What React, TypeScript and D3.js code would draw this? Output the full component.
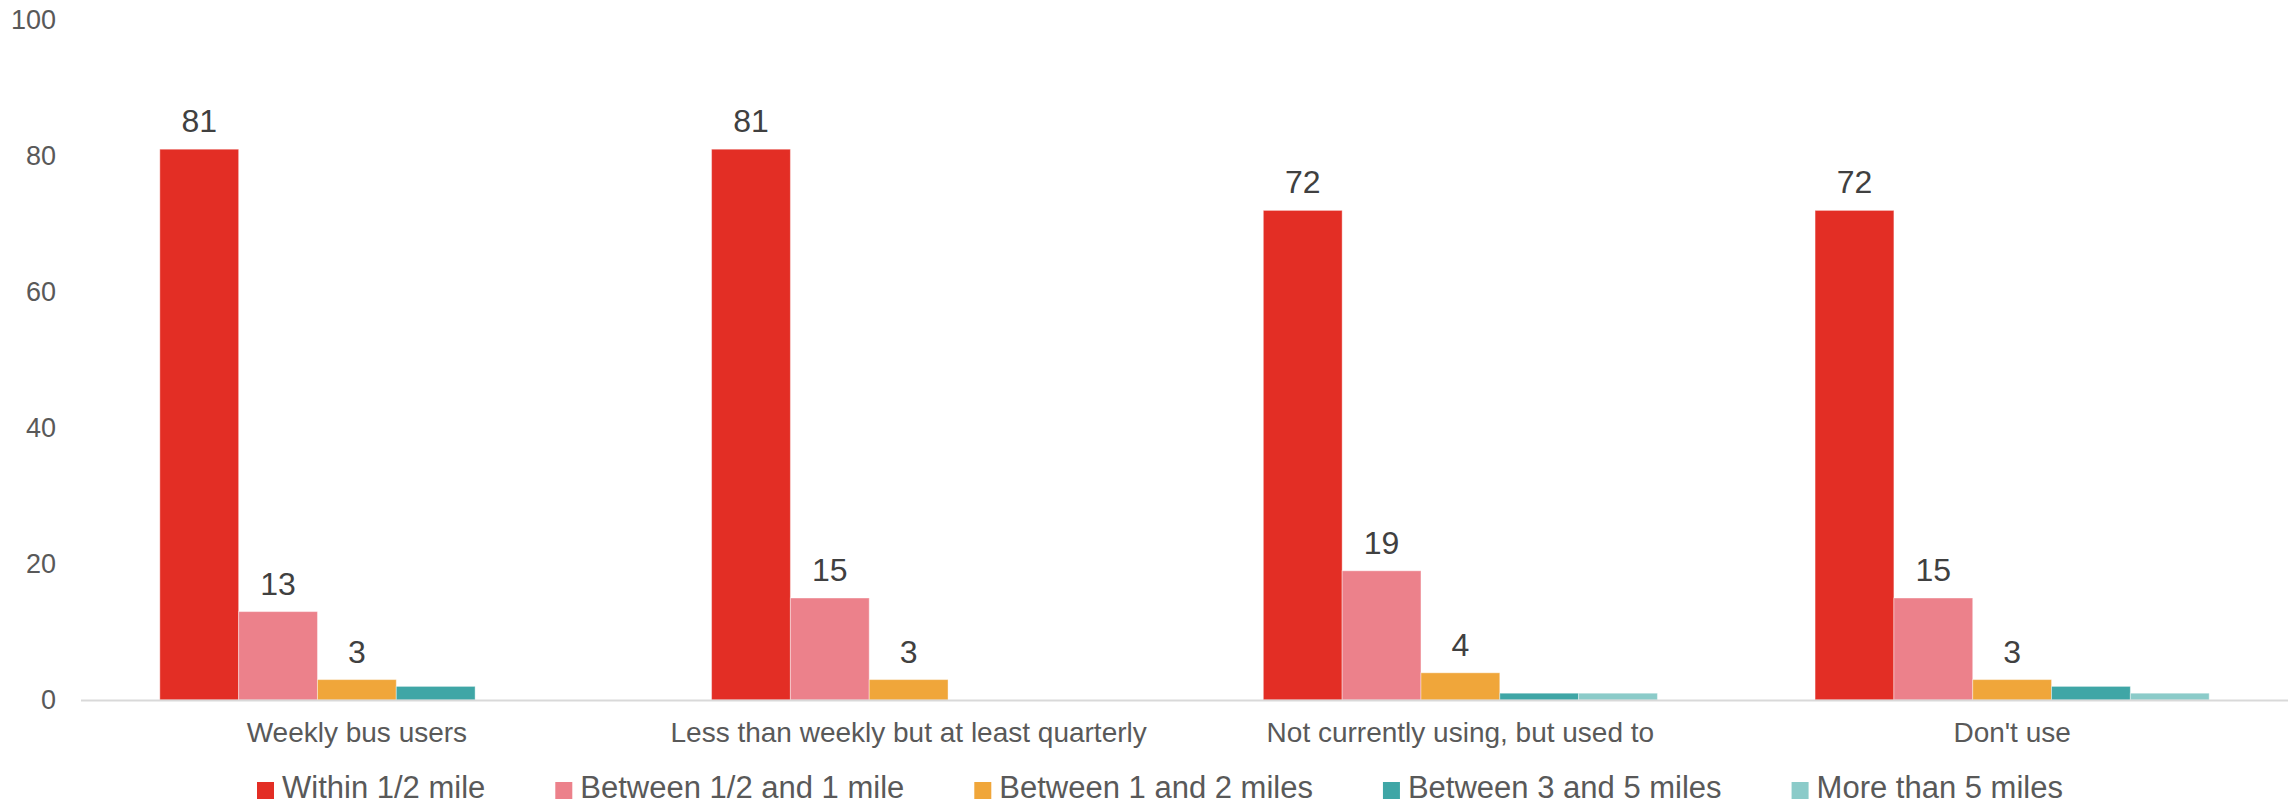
import React, { useEffect, useRef } from "react";
import * as d3 from "d3";

const categories = [
  "Weekly bus users",
  "Less than weekly but at least quarterly",
  "Not currently using, but used to",
  "Don't use",
];
const seriesNames = [
  "Within 1/2 mile",
  "Between 1/2 and 1 mile",
  "Between 1 and 2 miles",
  "Between 3 and 5 miles",
  "More than 5 miles",
];
const within = [81, 81, 72, 72];
const halfToOne = [13, 15, 19, 15];
const oneToTwo = [3, 3, 4, 3];
const threeToFive = [2, 0, 1, 2];
const moreThanFive = [0, 0, 1, 1];
const seriesValues = [within, halfToOne, oneToTwo, threeToFive, moreThanFive];
const colors = ["#E32E25", "#EC818B", "#F0A63A", "#3FA6A6", "#8BCBC9"];
const yTicks = [0, 20, 40, 60, 80, 100];

const W = 2295;
const H = 804;
const FONT = "'Liberation Sans', Arial, sans-serif";

export default function App() {
  const ref = useRef<SVGSVGElement>(null);
  useEffect(() => {
    document.body.style.margin = "0";
    const svg = d3.select(ref.current);
    svg.selectAll("*").remove();
    const left = 81, right = 2288, top = 20, bottom = 700;
    const x0 = d3.scaleBand().domain(categories).range([left, right]).paddingInner(0).paddingOuter(0);
    const x1 = d3
      .scaleBand()
      .domain(seriesNames)
      .range([0, x0.bandwidth()])
      .paddingOuter(1)
      .paddingInner(0);
    const y = d3.scaleLinear().domain([0, 100]).range([bottom, top]);

    // y tick labels
    svg
      .append("g")
      .selectAll("text")
      .data(yTicks)
      .join("text")
      .attr("x", 56)
      .attr("y", (d) => y(d))
      .attr("dy", "0.35em")
      .attr("text-anchor", "end")
      .attr("font-family", FONT)
      .attr("font-size", 27)
      .attr("fill", "#595959")
      .text((d) => d);

    // bars
    const groups = svg
      .append("g")
      .selectAll("g")
      .data(categories)
      .join("g")
      .attr("transform", (c) => `translate(${x0(c)},0)`);
    groups
      .selectAll("rect")
      .data((c, ci) => seriesNames.map((s, si) => ({ s, si, v: seriesValues[si][ci] })))
      .join("rect")
      .attr("x", (d) => x1(d.s)!)
      .attr("width", x1.bandwidth())
      .attr("y", (d) => y(d.v))
      .attr("height", (d) => y(0) - y(d.v))
      .attr("fill", (d) => colors[d.si])
      .attr("stroke", "#ffffff")
      .attr("stroke-opacity", 0.4)
      .attr("stroke-width", 1);
    groups
      .selectAll("text")
      .data((c, ci) =>
        seriesNames.map((s, si) => ({ s, si, v: seriesValues[si][ci] })).filter((d) => d.v >= 3)
      )
      .join("text")
      .attr("x", (d) => x1(d.s)! + x1.bandwidth() / 2)
      .attr("y", (d) => y(d.v) - 17)
      .attr("text-anchor", "middle")
      .attr("font-family", FONT)
      .attr("font-size", 32)
      .attr("fill", "#404040")
      .text((d) => d.v);

    // axis line
    svg
      .append("line")
      .attr("x1", left)
      .attr("x2", right)
      .attr("y1", y(0) + 0.5)
      .attr("y2", y(0) + 0.5)
      .attr("stroke", "#d9d9d9")
      .attr("stroke-width", 2);

    // category labels
    svg
      .append("g")
      .selectAll("text")
      .data(categories)
      .join("text")
      .attr("x", (c) => x0(c)! + x0.bandwidth() / 2)
      .attr("y", 742)
      .attr("text-anchor", "middle")
      .attr("font-family", FONT)
      .attr("font-size", 28)
      .attr("fill", "#595959")
      .text((c) => c);

    // legend
    const lg = svg.append("g");
    const items = lg
      .selectAll("g")
      .data(seriesNames)
      .join("g");
    items
      .append("rect")
      .attr("width", 17)
      .attr("height", 17)
      .attr("y", 782)
      .attr("fill", (d, i) => colors[i]);
    const texts = items
      .append("text")
      .attr("x", 25)
      .attr("y", 798)
      .attr("font-family", FONT)
      .attr("font-size", 31)
      .attr("fill", "#595959")
      .text((d) => d);
    const widths: number[] = [];
    texts.each(function () {
      widths.push((this as SVGTextElement).getComputedTextLength());
    });
    const gap = 70;
    let cx = 257;
    items.attr("transform", (d, i) => {
      const t = `translate(${cx},0)`;
      cx += 25 + widths[i] + gap;
      return t;
    });
  }, []);
  return <svg ref={ref} width={W} height={H} style={{ display: "block", background: "#fff" }} />;
}
